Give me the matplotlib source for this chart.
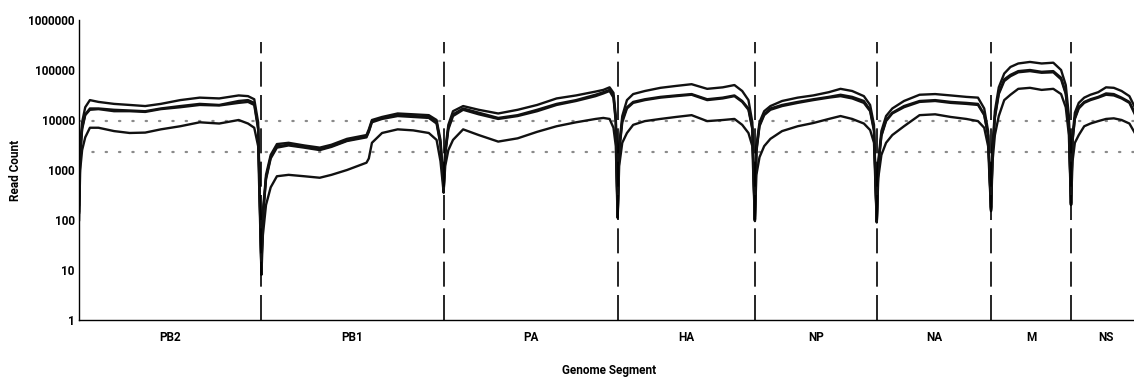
import matplotlib

matplotlib.use('Agg')
import matplotlib.pyplot as plt
from matplotlib.ticker import FixedLocator, NullLocator
import numpy as np

plt.rcParams['font.family'] = ['Roboto', 'DejaVu Sans']

# segment names and lengths (nt)
segments = ['PB2', 'PB1', 'PA', 'HA', 'NP', 'NA', 'M', 'NS']
seg_len = [2341, 2341, 2233, 1762, 1565, 1467, 1027, 890]

# sampled read depth per segment: positions (nt within segment) and 4 samples
pb2_pos = [1, 15, 40, 80, 140, 250, 450, 650, 850, 1050, 1300, 1550, 1800, 2050, 2170, 2250, 2300, 2341]
pb2_a = [200, 3000, 9000, 18000, 25000, 23000, 21000, 20000, 19000, 21000, 25000, 28000, 27000, 31000, 30000, 26000, 9000, 15]
pb2_b = [150, 2000, 7000, 13000, 17000, 17000, 16000, 15500, 15000, 17000, 19000, 21000, 20000, 24000, 25000, 22000, 7000, 12]
pb2_c = [140, 1900, 6500, 12500, 16000, 16500, 15000, 15000, 14500, 16500, 18000, 20000, 19500, 22000, 23000, 20000, 6500, 11]
pb2_d = [100, 1000, 2500, 4500, 7000, 7000, 6000, 5500, 5600, 6500, 7500, 9000, 8500, 10000, 8500, 7000, 3000, 10]

pb1_pos = [1, 20, 60, 120, 200, 350, 550, 750, 900, 1100, 1350, 1380, 1420, 1550, 1750, 1950, 2150, 2250, 2300, 2341]
pb1_a = [15, 150, 800, 2000, 3300, 3500, 3100, 2800, 3200, 4200, 5000, 6500, 10000, 11500, 13500, 13000, 12500, 10000, 4000, 500]
pb1_b = [12, 120, 700, 1800, 3000, 3200, 2900, 2600, 3000, 3900, 4700, 6000, 9500, 11000, 12500, 12000, 11500, 9000, 3500, 450]
pb1_c = [11, 110, 650, 1700, 2800, 3100, 2800, 2500, 2900, 3800, 4500, 5800, 9000, 10500, 12000, 11500, 11000, 8500, 3200, 420]
pb1_d = [8, 50, 200, 450, 750, 800, 750, 700, 800, 1000, 1400, 1700, 3500, 5500, 6500, 6200, 5500, 4000, 1500, 350]

pa_pos = [1, 20, 60, 120, 250, 450, 700, 950, 1200, 1450, 1700, 1950, 2050, 2130, 2180, 2210, 2233]
pa_a = [500, 2500, 8000, 15000, 19000, 16000, 13500, 16000, 20000, 27000, 31000, 37000, 40000, 45000, 35000, 12000, 130]
pa_b = [450, 2200, 7000, 13000, 17000, 14000, 11000, 12500, 16000, 21000, 25000, 32000, 36000, 40000, 30000, 10000, 120]
pa_c = [420, 2000, 6500, 12000, 16000, 13000, 10500, 12000, 15000, 20000, 24000, 30000, 34000, 38000, 28000, 9000, 115]
pa_d = [400, 1200, 2500, 4000, 6500, 5000, 3700, 4300, 5800, 7500, 9000, 10500, 11000, 10500, 7000, 3000, 110]

ha_pos = [1, 20, 60, 120, 200, 350, 550, 750, 950, 1150, 1350, 1500, 1600, 1680, 1730, 1762]
ha_a = [130, 3000, 12000, 25000, 33000, 38000, 44000, 48000, 52000, 42000, 45000, 50000, 38000, 25000, 9000, 110]
ha_b = [120, 2500, 10000, 18000, 23000, 26000, 29000, 31000, 33000, 26000, 28000, 31000, 24000, 17000, 7000, 105]
ha_c = [115, 2300, 9000, 17000, 22000, 25000, 28000, 30000, 32000, 25000, 27000, 30000, 23000, 16000, 6500, 100]
ha_d = [110, 1200, 3500, 5500, 8000, 9500, 10500, 11500, 12500, 9500, 10000, 10500, 8000, 5500, 3000, 100]

np_pos = [1, 20, 60, 120, 200, 350, 550, 750, 950, 1100, 1250, 1400, 1480, 1530, 1565]
np_a = [105, 3000, 9000, 15000, 19000, 24000, 28000, 31000, 36000, 42000, 38000, 30000, 20000, 8000, 100]
np_b = [100, 2500, 8000, 13000, 17000, 20000, 23000, 26000, 29000, 32000, 29000, 24000, 16000, 6500, 95]
np_c = [95, 2300, 7500, 12500, 16000, 19000, 22000, 25000, 28000, 30000, 27000, 22000, 15000, 6000, 90]
np_d = [100, 800, 1800, 3000, 4200, 6000, 7500, 8700, 10500, 12000, 10500, 8500, 6300, 3500, 90]

na_pos = [1, 20, 60, 120, 200, 350, 550, 750, 950, 1150, 1300, 1380, 1430, 1467]
na_a = [100, 1500, 6000, 12000, 17000, 24000, 32000, 33000, 31000, 29000, 28000, 17000, 6000, 180]
na_b = [95, 1300, 5000, 10000, 14000, 19000, 24000, 25000, 23000, 22000, 21000, 13000, 5000, 170]
na_c = [90, 1200, 4800, 9500, 13500, 18000, 23000, 24000, 22000, 21000, 20000, 12500, 4800, 160]
na_d = [90, 700, 2000, 3500, 5000, 7500, 12500, 13000, 11500, 10500, 9500, 7000, 3000, 150]

m_pos = [1, 20, 50, 100, 170, 250, 350, 500, 650, 800, 900, 960, 1000, 1027]
m_a = [180, 3000, 15000, 45000, 85000, 115000, 135000, 145000, 135000, 140000, 100000, 50000, 12000, 220]
m_b = [170, 2500, 12000, 35000, 65000, 80000, 95000, 100000, 92000, 95000, 70000, 35000, 9000, 210]
m_c = [160, 2300, 11000, 33000, 60000, 75000, 90000, 95000, 88000, 90000, 65000, 33000, 8500, 200]
m_d = [150, 1500, 5000, 12000, 25000, 32000, 42000, 44000, 40000, 42000, 33000, 18000, 5000, 200]

ns_pos = [1, 20, 50, 100, 170, 250, 350, 450, 550, 650, 750, 820, 890]
ns_a = [220, 5000, 14000, 22000, 28000, 32000, 36000, 45000, 44000, 38000, 30000, 18000, 9000]
ns_b = [210, 4000, 11000, 18000, 23000, 26000, 29000, 34000, 33000, 28000, 23000, 14000, 7000]
ns_c = [200, 3800, 10500, 17000, 22000, 25000, 28000, 32000, 31000, 27000, 22000, 13000, 6500]
ns_d = [200, 1500, 3500, 5000, 7500, 8500, 9500, 10500, 10800, 10000, 8500, 5500, 3000]

# dotted reference levels
ref_levels = [9500, 2300]

seg_pos = [pb2_pos, pb1_pos, pa_pos, ha_pos, np_pos, na_pos, m_pos, ns_pos]
seg_vals = [
    [pb2_a, pb2_b, pb2_c, pb2_d],
    [pb1_a, pb1_b, pb1_c, pb1_d],
    [pa_a, pa_b, pa_c, pa_d],
    [ha_a, ha_b, ha_c, ha_d],
    [np_a, np_b, np_c, np_d],
    [na_a, na_b, na_c, na_d],
    [m_a, m_b, m_c, m_d],
    [ns_a, ns_b, ns_c, ns_d],
]

starts = np.concatenate([[0], np.cumsum(seg_len)[:-1]])
total = sum(seg_len)

fig = plt.figure(figsize=(11.34, 3.78), dpi=100)
ax = fig.add_axes([79 / 1134, 58 / 378, 1061.3 / 1134, 300 / 378])

for k in range(4):
    xs = []
    ys = []
    for i in range(len(segments)):
        xs += list(np.array(seg_pos[i]) + starts[i])
        ys += seg_vals[i][k]
    ax.plot(xs, ys, color='#111111', lw=1.7, solid_joinstyle='round')

for lev in ref_levels:
    ax.axhline(lev, color='#8a8a8a', lw=1.6, linestyle=(0, (0.6, 5.4)),
               dash_capstyle='round', zorder=0)

for b in starts[1:]:
    ax.axvline(b, ymax=278 / 300, color='black', lw=1.2,
               linestyle=(0, (15, 5)))

ax.set_yscale('log')
ax.set_ylim(1, 1e6)
ax.set_xlim(0, total)
yt = [1, 10, 100, 1000, 10000, 100000, 1000000]
ax.yaxis.set_major_locator(FixedLocator(yt))
ax.yaxis.set_minor_locator(NullLocator())
ax.set_yticklabels([str(v) for v in yt])
ax.set_xticks(starts + np.array(seg_len) / 2)
ax.set_xticklabels(segments)
ax.tick_params(axis='both', length=0, labelsize=8.5)
ax.tick_params(axis='y', pad=3)
ax.tick_params(axis='x', pad=8)
for lab in ax.get_xticklabels() + ax.get_yticklabels():
    lab.set_fontweight('bold')

for s in ['top', 'right']:
    ax.spines[s].set_visible(False)
for s in ['left', 'bottom']:
    ax.spines[s].set_linewidth(1.0)

# axis titles placed in figure pixels (converted to axes fractions)
ax.set_xlabel('Genome Segment', fontsize=8.5, fontweight='bold')
ax.xaxis.set_label_coords((609 - 79) / 1061.3, (320 - 364) / 300)
ax.set_ylabel('Read Count', fontsize=8.5, fontweight='bold')
ax.yaxis.set_label_coords((22 - 79) / 1061.3, 0.5)

fig.savefig('out.png', dpi=100)
